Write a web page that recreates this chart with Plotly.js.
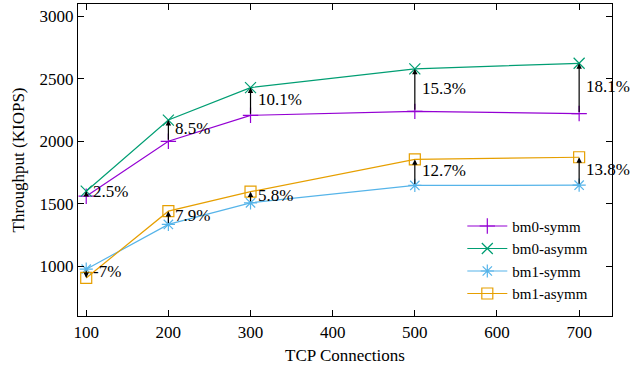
<!DOCTYPE html>
<html>
<head>
<meta charset="utf-8">
<script src="https://cdn.plot.ly/plotly-3.0.1.min.js"></script>
<style>html,body{margin:0;padding:0;background:#fff;}#chart{width:631px;height:371px;}</style>
</head>
<body>
<div id="chart"></div>
<script>
const connections = [100, 200, 300, 500, 700];
const bm0Symm  = [1560, 2000, 2208, 2240, 2222];
const bm0Asymm = [1600, 2170, 2430, 2580, 2625];
const bm1Symm  = [975, 1334, 1507, 1646, 1648];
const bm1Asymm = [905, 1440, 1596, 1855, 1872];
const bm0Labels = ['2.5%', '8.5%', '10.1%', '15.3%', '18.1%'];
const bm1Labels = ['-7%', '7.9%', '5.8%', '12.7%', '13.8%'];

const FONT = '"Liberation Serif", "Times New Roman", Times, serif';
const colors = {bm0s: '#9400d3', bm0a: '#009e73', bm1s: '#56b4e9', bm1a: '#e69f00'};

function series(name, y, color, symbol) {
  return {
    x: connections, y: y, name: name, type: 'scatter', mode: 'lines+markers',
    line: {color: color, width: 1.2},
    marker: {symbol: symbol, size: 11, color: color, line: {color: color, width: 1.2}},
    cliponaxis: false
  };
}

const traces = [
  series('bm0-symm', bm0Symm, colors.bm0s, 'cross-thin-open'),
  series('bm0-asymm', bm0Asymm, colors.bm0a, 'x-thin-open'),
  series('bm1-symm', bm1Symm, colors.bm1s, 'asterisk-open'),
  series('bm1-asymm', bm1Asymm, colors.bm1a, 'square-open')
];

const annotations = [];
function addArrows(lower, upper, labels) {
  connections.forEach((c, i) => {
    annotations.push({
      x: c, y: upper[i], ax: c, ay: lower[i], xref: 'x', yref: 'y', axref: 'x', ayref: 'y',
      text: '', showarrow: true, arrowhead: 2, arrowsize: 0.9, arrowwidth: 1.2,
      arrowcolor: '#000', standoff: 0, startstandoff: 0
    });
    annotations.push({
      x: c, y: (lower[i] + upper[i]) / 2, xref: 'x', yref: 'y', text: labels[i],
      showarrow: false, xanchor: 'left', yanchor: 'middle', xshift: 5, yshift: 2,
      font: {family: FONT, size: 17, color: '#000'}
    });
  });
}
addArrows(bm0Symm, bm0Asymm, bm0Labels);
addArrows(bm1Symm, bm1Asymm, bm1Labels);

const layout = {
  width: 631, height: 371,
  margin: {l: 78, r: 19, t: 4, b: 55},
  paper_bgcolor: '#fff', plot_bgcolor: '#fff',
  font: {family: FONT, size: 17, color: '#000'},
  showlegend: true,
  legend: {x: 0.965, y: 0.02, xanchor: 'right', yanchor: 'bottom', bgcolor: 'rgba(0,0,0,0)',
           font: {family: FONT, size: 15}, tracegroupgap: 0, itemwidth: 40},
  xaxis: {
    range: [90, 740], dtick: 100, tick0: 100, showgrid: false, zeroline: false,
    showline: true, linecolor: '#000', linewidth: 1.2, mirror: 'allticks',
    ticks: 'inside', ticklen: 6, tickcolor: '#000', tickwidth: 1,
    title: {text: 'TCP Connections', font: {family: FONT, size: 17}, standoff: 8}
  },
  yaxis: {
    range: [600, 3100], dtick: 500, tick0: 1000, showgrid: false, zeroline: false,
    showline: true, linecolor: '#000', linewidth: 1.2, mirror: 'allticks',
    ticks: 'inside', ticklen: 6, tickcolor: '#000', tickwidth: 1,
    title: {text: 'Throughput (KIOPS)', font: {family: FONT, size: 17}, standoff: 10}
  },
  annotations: annotations
};

Plotly.newPlot('chart', traces, layout, {displayModeBar: false, staticPlot: true});
</script>
</body>
</html>
